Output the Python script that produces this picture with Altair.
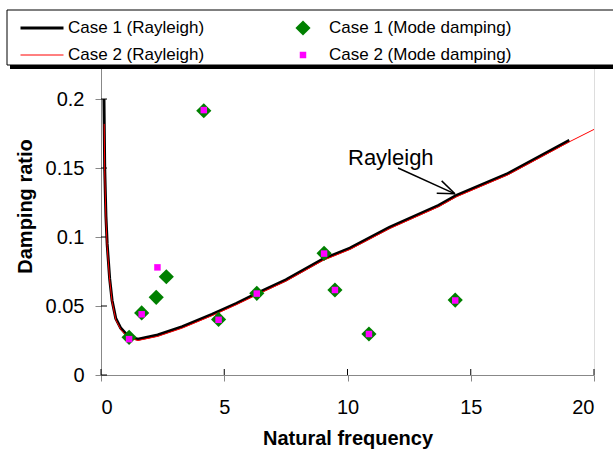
import altair as alt
import pandas as pd

# ---- data ----
# legend fills column by column: column 1 = Rayleigh curves, column 2 = mode damping points
series_names = ["Case 1 (Rayleigh)", "Case 2 (Rayleigh)", "Case 1 (Mode damping)", "Case 2 (Mode damping)"]
series_colors = ["#000000", "#ff0000", "#008000", "#ff00ff"]

ray1_x = [0.12, 0.15, 0.2, 0.25, 0.35, 0.45, 0.6, 0.8, 1.1, 1.5, 2.3, 3.3, 4.5, 5.5, 6.3, 7.5, 9.0, 10.1, 11.7, 13.7, 14.4, 16.5, 19.0]
ray1_y = [0.200, 0.150, 0.115, 0.095, 0.070, 0.054, 0.041, 0.034, 0.028, 0.026, 0.029, 0.035, 0.044, 0.052, 0.059, 0.069, 0.084, 0.092, 0.107, 0.123, 0.130, 0.146, 0.170]

ray2_x = [0.13, 0.15, 0.2, 0.25, 0.35, 0.45, 0.6, 0.8, 1.1, 1.5, 2.3, 3.3, 4.5, 5.5, 6.3, 7.5, 9.0, 10.1, 11.7, 13.7, 14.4, 16.5, 19.0, 20.0]
ray2_y = [0.182, 0.148, 0.113, 0.093, 0.069, 0.053, 0.040, 0.033, 0.027, 0.025, 0.028, 0.034, 0.043, 0.051, 0.058, 0.068, 0.083, 0.091, 0.106, 0.122, 0.129, 0.145, 0.169, 0.178]

mode1_x = [1.14, 1.65, 2.24, 2.65, 4.17, 4.77, 6.32, 9.05, 9.49, 10.87, 14.37]
mode1_y = [0.0273, 0.045, 0.0563, 0.0712, 0.1915, 0.0403, 0.0592, 0.0882, 0.0616, 0.0297, 0.0543]

mode2_x = [1.14, 1.65, 2.29, 4.17, 4.77, 6.32, 9.05, 9.49, 10.87, 14.37]
mode2_y = [0.026, 0.044, 0.078, 0.192, 0.040, 0.059, 0.088, 0.0616, 0.0297, 0.054]

x_ticks = [0, 5, 10, 15, 20]
y_ticks = [0, 0.05, 0.1, 0.15, 0.2]

ann_text = ["Rayleigh"]
ann_x = [10.02]
ann_y = [0.1523]
# arrow: shaft and the two head strokes
arrow_x1 = [12.05, 13.82, 13.62]
arrow_y1 = [0.150, 0.1407, 0.1318]
arrow_x2 = [14.36, 14.36, 14.36]
arrow_y2 = [0.1313, 0.1313, 0.1313]

# ---- tables ----
rows = []
for xs, ys, s in [(ray1_x, ray1_y, series_names[0]), (ray2_x, ray2_y, series_names[1]),
                  (mode1_x, mode1_y, series_names[2]), (mode2_x, mode2_y, series_names[3])]:
    for a, b in zip(xs, ys):
        rows.append({"x": a, "y": b, "series": s})
df = pd.DataFrame(rows)
ann_df = pd.DataFrame({"label": ann_text, "x": ann_x, "y": ann_y})
arrow_df = pd.DataFrame({"x": arrow_x1, "y": arrow_y1, "x2": arrow_x2, "y2": arrow_y2})
xt_df = pd.DataFrame({"t": x_ticks})
yt_df = pd.DataFrame({"t": y_ticks})

FONT = "Liberation Sans"
LEG_FS = 17
W, H = 493, 307

xscale = alt.Scale(domain=[0, 20], nice=False, zero=False)
yscale = alt.Scale(domain=[0, 0.2225], nice=False)

x_axis = alt.Axis(values=x_ticks, title="Natural frequency", grid=False, tickSize=6, labelPadding=16,
                  labelFontSize=20, titleFontSize=20, titleFontWeight="bold",
                  titleY=69, titleBaseline="alphabetic")
y_axis = alt.Axis(values=y_ticks, title="Damping ratio", grid=False, tickSize=6, labelPadding=11,
                  format=".2~f", labelFontSize=20, titleFontSize=20, titleFontWeight="bold",
                  titleX=-76, titleY=138, titleBaseline="middle", titleAngle=-90, titleAlign="center")

leg = alt.Legend(orient="none", legendX=-82, legendY=-50, columns=2, columnPadding=75, rowPadding=7,
                 clipHeight=20, labelFont=FONT, labelFontSize=LEG_FS, labelColor="black", labelOffset=3,
                 padding=0, title=None, symbolOpacity=1, labelLimit=0)

color = alt.Color("series:N", scale=alt.Scale(type="ordinal", domain=series_names, range=series_colors), legend=leg)
shape = alt.Shape("series:N", scale=alt.Scale(type="ordinal", domain=series_names,
                                              range=["stroke", "stroke", "diamond", "square"]), legend=leg)
size = alt.Size("series:N", scale=alt.Scale(type="ordinal", domain=series_names, range=[1849, 1849, 230, 42]), legend=leg)
swidth = alt.StrokeWidth("series:N", scale=alt.Scale(type="ordinal", domain=series_names, range=[3, 1, 0, 0]), legend=leg)

X = alt.X("x:Q", scale=xscale, axis=x_axis)
Y = alt.Y("y:Q", scale=yscale, axis=y_axis)

base = alt.Chart(df)

box = alt.Chart(alt.Data(values=[{}])).mark_rect(fill="white", stroke="black", strokeWidth=1).encode(
    x=alt.value(-94), x2=alt.value(530), y=alt.value(-58), y2=alt.value(-3))
shadow = alt.Chart(alt.Data(values=[{}])).mark_rect(fill="black").encode(
    x=alt.value(-91), x2=alt.value(530), y=alt.value(-3), y2=alt.value(1))

# inner halves of the cross ticks
xtick_in = alt.Chart(xt_df).mark_rule(color="black", strokeWidth=1).encode(
    x=alt.X("t:Q", scale=xscale), y=alt.value(H), y2=alt.value(H - 6))
ytick_in = alt.Chart(yt_df).mark_rule(color="black", strokeWidth=1).encode(
    y=alt.Y("t:Q", scale=yscale), x=alt.value(0), x2=alt.value(6))

line1 = base.transform_filter(alt.datum.series == series_names[0]).mark_line(clip=True).encode(
    x=X, y=Y, color=color, strokeWidth=swidth)
line2 = base.transform_filter(alt.datum.series == series_names[1]).mark_line(clip=True).encode(
    x=X, y=Y, color=color, strokeWidth=swidth)
pts1 = base.transform_filter(alt.datum.series == series_names[2]).mark_point(filled=True, opacity=1).encode(
    x=X, y=Y, color=color, shape=shape, size=size)
pts2 = base.transform_filter(alt.datum.series == series_names[3]).mark_point(filled=True, opacity=1).encode(
    x=X, y=Y, color=color, shape=shape, size=size)

ann = alt.Chart(ann_df).mark_text(align="left", baseline="alphabetic", font=FONT, fontSize=22, color="black").encode(
    x=alt.X("x:Q", scale=xscale), y=alt.Y("y:Q", scale=yscale), text="label:N")
arrow = alt.Chart(arrow_df).mark_rule(color="black", strokeWidth=1.5).encode(
    x=alt.X("x:Q", scale=xscale), y=alt.Y("y:Q", scale=yscale), x2="x2:Q", y2="y2:Q")

chart = alt.layer(box, shadow, xtick_in, ytick_in, line1, line2, pts1, pts2, arrow, ann).properties(
    width=W, height=H,
    autosize=alt.AutoSizeParams(type="none"),
    padding={"left": 101, "top": 68, "right": 19, "bottom": 75},
).configure_view(stroke="#808080", strokeWidth=1).configure_axis(
    labelFont=FONT, titleFont=FONT, labelColor="black", titleColor="black",
    domainColor="black", tickColor="black", domainWidth=1, tickWidth=1
).configure_legend(
    labelFont=FONT, labelFontSize=LEG_FS, labelColor="black"
).configure(background="white")

chart.save("out.html", embed_options={"renderer": "svg", "actions": False})
